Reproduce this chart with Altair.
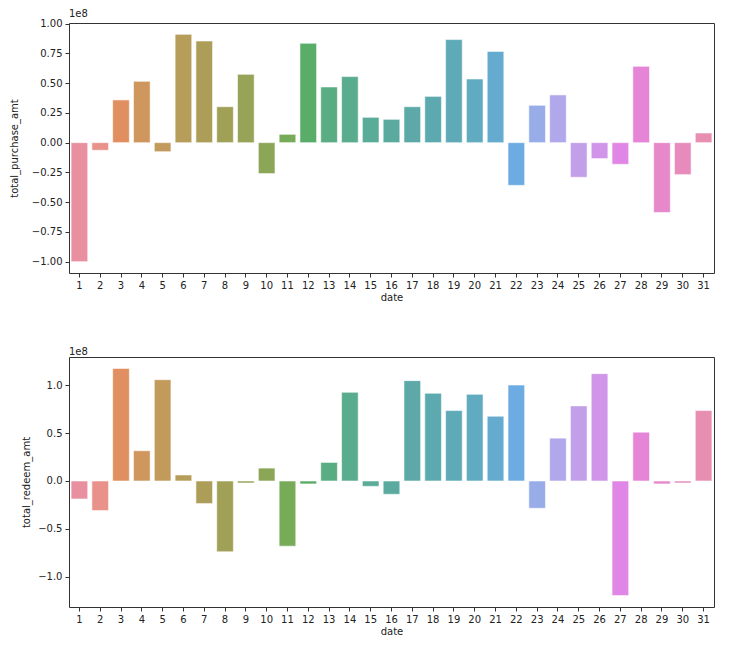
import math
import colorsys
import altair as alt
import pandas as pd

days = list(range(1, 32))
purchase = [-1.00, -0.064, 0.359, 0.515, -0.076, 0.910, 0.854, 0.302, 0.574, -0.260,
            0.070, 0.835, 0.468, 0.555, 0.213, 0.196, 0.302, 0.389, 0.866, 0.535,
            0.767, -0.359, 0.314, 0.401, -0.291, -0.134, -0.182, 0.641, -0.588, -0.269,
            0.081]
redeem = [-0.188, -0.309, 1.177, 0.316, 1.059, 0.063, -0.236, -0.740, -0.021, 0.135,
          -0.681, -0.031, 0.194, 0.927, -0.056, -0.139, 1.049, 0.917, 0.736, 0.906,
          0.677, 1.003, -0.285, 0.448, 0.785, 1.122, -1.198, 0.510, -0.031, -0.021,
          0.736]
purchase_ticks = [-1.0, -0.75, -0.5, -0.25, 0.0, 0.25, 0.5, 0.75, 1.0]
redeem_ticks = [-1.0, -0.5, 0.0, 0.5, 1.0]

# --- husl palette (seaborn style), desaturated 0.75 like barplot ---
M = [[3.2406, -1.5372, -0.4986], [-0.9689, 1.8758, 0.0415], [0.0557, -0.2040, 1.0570]]
refU, refV = 0.19784, 0.46834
lab_e, lab_k = 0.008856, 903.3


def max_chroma(L, H):
    hrad = math.radians(H)
    sinH, cosH = math.sin(hrad), math.cos(hrad)
    sub1 = (L + 16) ** 3 / 1560896.0
    sub2 = sub1 if sub1 > 0.008856 else (L / 903.3)
    result = float("inf")
    for m1, m2, m3 in M:
        top = (0.99915 * m1 + 1.05122 * m2 + 1.14460 * m3) * sub2
        rbottom = 0.86330 * m3 - 0.17266 * m2
        lbottom = 0.12949 * m3 - 0.38848 * m1
        bottom = (rbottom * sinH + lbottom * cosH) * sub2
        for t in (0.0, 1.0):
            C = L * (top - 1.05122 * t) / (bottom + 0.17266 * sinH * t)
            if 0.0 < C < result:
                result = C
    return result


def f_inv(t):
    if t > lab_k * lab_e:
        return ((t + 16.0) / 116.0) ** 3
    return t / lab_k


def from_linear(c):
    if c <= 0.0031308:
        return 12.92 * c
    return 1.055 * math.pow(c, 1.0 / 2.4) - 0.055


def husl_to_rgb(H, S, L):
    C = max_chroma(L, H) / 100.0 * S
    hr = math.radians(H)
    U, V = math.cos(hr) * C, math.sin(hr) * C
    Y = f_inv(L)
    vu = U / (13.0 * L) + refU
    vv = V / (13.0 * L) + refV
    X = 0.0 - (9.0 * Y * vu) / ((vu - 4.0) * vv - vu * vv)
    Z = (9.0 * Y - (15.0 * vv * Y) - (vv * X)) / (3.0 * vv)
    rgb = [from_linear(r[0] * X + r[1] * Y + r[2] * Z) for r in M]
    return [min(1.0, max(0.0, c)) for c in rgb]


def husl_palette(n, h=0.01, s=0.9, l=0.65):
    cols = []
    for i in range(n):
        hue = ((i / n) + h) % 1 * 359
        r, g, b = husl_to_rgb(hue, s * 99, l * 99)
        hh, ll, ss = colorsys.rgb_to_hls(r, g, b)
        r, g, b = colorsys.hls_to_rgb(hh, ll, ss * 0.75)
        cols.append("#%02x%02x%02x" % tuple(int(round(c * 255)) for c in (r, g, b)))
    return cols


colors = husl_palette(len(days))

df1 = pd.DataFrame({"date": days, "value": purchase})
df2 = pd.DataFrame({"date": days, "value": redeem})

FONT = "DejaVu Sans"
W, H = 645, 250


def panel(df, ytitle, dom, ticks, fmt, tpad):
    return alt.Chart(df).mark_bar(stroke="white", strokeWidth=0.8, strokeOpacity=0.7,
                                  fillOpacity=0.88).encode(
        x=alt.X("date:O", sort=days,
                scale=alt.Scale(paddingInner=0.2, paddingOuter=0.1),
                axis=alt.Axis(title="date", labelAngle=0, domain=False, tickSize=4,
                              labelPadding=3, titlePadding=2, tickColor="#333")),
        y=alt.Y("value:Q", scale=alt.Scale(domain=dom, nice=False, zero=False),
                axis=alt.Axis(title=ytitle, values=ticks, format=fmt, grid=False,
                              domain=False, tickSize=4, labelPadding=3,
                              titlePadding=tpad, tickColor="#333")),
        color=alt.Color("date:O", sort=days,
                        scale=alt.Scale(domain=days, range=colors), legend=None),
    ).properties(
        width=W, height=H,
        title=alt.TitleParams("1e8", anchor="start", frame="group", fontSize=10,
                              fontWeight="normal", font=FONT, color="#222", offset=0),
    )


top = panel(df1, "total_purchase_amt", [-1.0955, 1.0055], purchase_ticks, ".2f", 12)
bottom = panel(df2, "total_redeem_amt", [-1.317, 1.296], redeem_ticks, ".1f", 6)

chart = alt.vconcat(top, bottom, spacing=43).properties(
    padding={"left": 0, "top": 0, "right": 5, "bottom": 0}
).configure_view(
    stroke="#333", strokeWidth=1
).configure_axis(
    labelFont=FONT, titleFont=FONT, labelFontSize=10, titleFontSize=10,
    labelColor="#222", titleColor="#222", titleFontWeight="normal"
)

chart.save("out.html", embed_options={"renderer": "svg", "actions": False})
